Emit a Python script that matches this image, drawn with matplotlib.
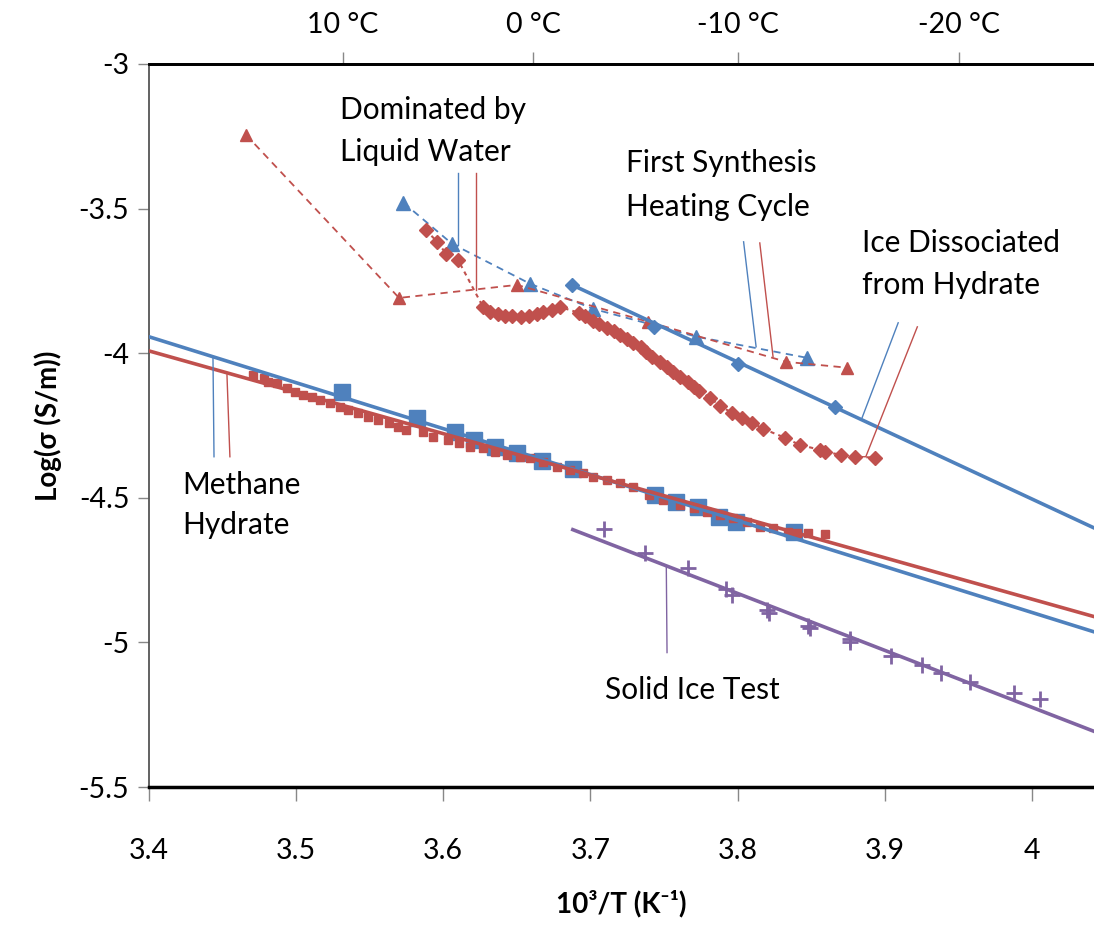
import matplotlib
matplotlib.use("Agg")
import matplotlib.pyplot as plt
from matplotlib.ticker import FuncFormatter

plt.rcParams['font.family'] = ['Lato', 'DejaVu Sans']
plt.rcParams['axes.unicode_minus'] = False

BLUE = '#4F81BD'
RED = '#C0504D'
PURPLE = '#8064A2'

# Methane hydrate, blue squares
hyd_blue_x = [3.531, 3.582, 3.608, 3.621, 3.635, 3.650, 3.667, 3.688, 3.744, 3.758,
              3.773, 3.787, 3.799, 3.838]
hyd_blue_y = [-4.133, -4.223, -4.272, -4.299, -4.323, -4.344, -4.372, -4.399, -4.489, -4.513,
              -4.531, -4.565, -4.583, -4.617]
hyd_blue_fit_x = [3.4, 4.05]
hyd_blue_fit_y = [-3.943, -4.976]

# Methane hydrate, red squares
hyd_red_x = [3.471, 3.478, 3.481, 3.487, 3.494, 3.499, 3.505, 3.511, 3.516, 3.523,
             3.530, 3.535, 3.542, 3.549, 3.556, 3.563, 3.569, 3.575, 3.586, 3.593,
             3.603, 3.611, 3.618, 3.627, 3.635, 3.643, 3.652, 3.659, 3.668, 3.677,
             3.686, 3.695, 3.702, 3.711, 3.720, 3.729, 3.740, 3.749, 3.761, 3.770,
             3.779, 3.788, 3.797, 3.806, 3.815, 3.824, 3.834, 3.840, 3.848, 3.859]
hyd_red_y = [-4.075, -4.085, -4.099, -4.102, -4.120, -4.133, -4.144, -4.151, -4.161, -4.171,
             -4.185, -4.196, -4.206, -4.220, -4.230, -4.241, -4.254, -4.265, -4.272, -4.289,
             -4.299, -4.310, -4.323, -4.327, -4.341, -4.351, -4.358, -4.361, -4.375, -4.393,
             -4.403, -4.413, -4.427, -4.437, -4.448, -4.462, -4.489, -4.507, -4.524, -4.534,
             -4.548, -4.558, -4.569, -4.583, -4.600, -4.603, -4.617, -4.621, -4.621, -4.624]
hyd_red_fit_x = [3.4, 4.05]
hyd_red_fit_y = [-3.992, -4.922]

# First synthesis heating cycle (triangles)
syn_blue_x = [3.573, 3.606, 3.659, 3.702, 3.772, 3.847]
syn_blue_y = [-3.480, -3.622, -3.760, -3.847, -3.943, -4.016]
syn_red_x = [3.466, 3.570, 3.650, 3.739, 3.833, 3.874]
syn_red_y = [-3.245, -3.809, -3.764, -3.891, -4.030, -4.050]

# Ice dissociated from hydrate
ice_blue_x = [3.6875, 3.743, 3.800, 3.866]
ice_blue_y = [-3.764, -3.909, -4.037, -4.185]
ice_blue_fit_x = [3.6875, 4.05]
ice_blue_fit_y = [-3.764, -4.623]
ice_red_x = [3.588, 3.596, 3.602, 3.610, 3.627, 3.632, 3.637, 3.642, 3.647, 3.653,
             3.658, 3.664, 3.668, 3.674, 3.679, 3.692, 3.696, 3.702, 3.706, 3.711,
             3.716, 3.720, 3.725, 3.729, 3.734, 3.738, 3.742, 3.747, 3.752, 3.756,
             3.761, 3.766, 3.770, 3.774, 3.781, 3.788, 3.796, 3.803, 3.810, 3.817,
             3.832, 3.842, 3.856, 3.859, 3.870, 3.880, 3.893]
ice_red_y = [-3.574, -3.615, -3.657, -3.677, -3.840, -3.857, -3.864, -3.871, -3.871, -3.874,
             -3.871, -3.864, -3.857, -3.850, -3.840, -3.860, -3.871, -3.888, -3.898, -3.912,
             -3.923, -3.936, -3.950, -3.964, -3.978, -3.995, -4.012, -4.030, -4.047, -4.064,
             -4.082, -4.099, -4.116, -4.130, -4.154, -4.182, -4.206, -4.223, -4.240, -4.261,
             -4.292, -4.317, -4.334, -4.341, -4.351, -4.358, -4.361]

# Solid ice test
solid_x = [3.709, 3.737, 3.766, 3.792, 3.796, 3.820, 3.821, 3.848, 3.849, 3.876,
           3.876, 3.904, 3.925, 3.938, 3.958, 3.988, 4.005]
solid_y = [-4.607, -4.690, -4.742, -4.814, -4.835, -4.887, -4.897, -4.942, -4.949, -4.987,
           -4.997, -5.046, -5.077, -5.104, -5.136, -5.174, -5.194]
solid_fit_x = [3.688, 4.05]
solid_fit_y = [-4.610, -5.323]

celsius = [10, 0, -10, -20]
x_ticks = [3.4, 3.5, 3.6, 3.7, 3.8, 3.9, 4.0]
y_ticks = [-5.5, -5, -4.5, -4, -3.5, -3]

fig = plt.figure(figsize=(10.94, 9.26), dpi=100)
ax = fig.add_axes([0.136, 0.150, 0.864, 0.781])

# data series
ax.plot(hyd_blue_x, hyd_blue_y, 's', color=BLUE, ms=11, zorder=3)
ax.plot(hyd_red_x, hyd_red_y, 's', color=RED, ms=5.5, zorder=3)
ax.plot(syn_blue_x, syn_blue_y, '^', color=BLUE, ms=10, ls=(0, (4, 3)), lw=1.3, zorder=3)
ax.plot(syn_red_x, syn_red_y, '^', color=RED, ms=8, ls=(0, (4, 3)), lw=1.3, zorder=3)
ax.plot(ice_blue_x, ice_blue_y, 'D', color=BLUE, ms=7.5, zorder=4)
ax.plot(ice_red_x, ice_red_y, 'D', color=RED, ms=7, ls=(0, (2, 2)), lw=1.5, zorder=3)
ax.plot(solid_x, solid_y, '+', color=PURPLE, ms=11, mew=2, zorder=3)

# trend lines
ax.plot(hyd_blue_fit_x, hyd_blue_fit_y, color=BLUE, lw=2.6, zorder=5)
ax.plot(hyd_red_fit_x, hyd_red_fit_y, color=RED, lw=2.6, zorder=5)
ax.plot(ice_blue_fit_x, ice_blue_fit_y, color=BLUE, lw=2.6, zorder=5)
ax.plot(solid_fit_x, solid_fit_y, color=PURPLE, lw=2.6, zorder=5)

# callout leaders
leaders = [
    ([3.610, 3.610, 3.606], [-3.377, -3.625, -3.625], BLUE),
    ([3.622, 3.622], [-3.377, -3.781], RED),
    ([3.804, 3.8125], [-3.615, -3.978], BLUE),
    ([3.815, 3.824], [-3.619, -4.012], RED),
    ([3.909, 3.8845], [-3.895, -4.223], BLUE),
    ([3.922, 3.887, 3.883], [-3.909, -4.358, -4.358], RED),
    ([3.4436, 3.4443], [-4.016, -4.358], BLUE),
    ([3.4531, 3.4551], [-4.075, -4.358], RED),
    ([3.7515, 3.752], [-4.738, -5.035], PURPLE),
]
for lx, ly, c in leaders:
    ax.plot(lx, ly, color=c, lw=1.0, zorder=6)

labels = [
    (3.530, -3.159, 'Dominated by'), (3.530, -3.304, 'Liquid Water'),
    (3.724, -3.342, 'First Synthesis'), (3.724, -3.494, 'Heating Cycle'),
    (3.8845, -3.619, 'Ice Dissociated'), (3.8845, -3.764, 'from Hydrate'),
    (3.423, -4.455, 'Methane'), (3.423, -4.593, 'Hydrate'),
    (3.710, -5.163, 'Solid Ice Test'),
]
for tx, ty, s in labels:
    ax.text(tx, ty, s, fontsize=21.5, ha='left', va='center', color='black', zorder=7)

ax.set_xlim(3.4, 4.042)
ax.set_ylim(-5.5, -3)
ax.set_xticks(x_ticks)
ax.set_yticks(y_ticks)
ax.xaxis.set_major_formatter(FuncFormatter(lambda v, p: f'{v:g}'))
ax.yaxis.set_major_formatter(FuncFormatter(lambda v, p: f'{v:g}'))
ax.tick_params(axis='x', direction='out', length=10, width=1, color='#888888',
               labelsize=20.5, pad=27)
ax.tick_params(axis='y', direction='out', length=8, width=1, color='#888888',
               labelsize=20.5, pad=6)
ax.spines['right'].set_visible(False)
ax.spines['left'].set_color('#555555')
ax.spines['left'].set_linewidth(1.3)
ax.spines['bottom'].set_linewidth(2.5)
ax.spines['top'].set_linewidth(2)

# temperature scale on top
top = ax.secondary_xaxis('top')
top.set_xticks([1000.0 / (c + 273.15) for c in celsius],
               [f'{c} °C' for c in celsius])
top.tick_params(direction='out', length=9, width=1, color='#888888', labelsize=20.5, pad=10)
top.spines['top'].set_linewidth(2)

ax.set_xlabel('10³/T (K⁻¹)', fontsize=20, fontweight='bold', labelpad=18)
ax.set_ylabel('Log(σ (S/m))', fontsize=20, fontweight='bold', labelpad=12)

fig.savefig('out.png', dpi=100)
